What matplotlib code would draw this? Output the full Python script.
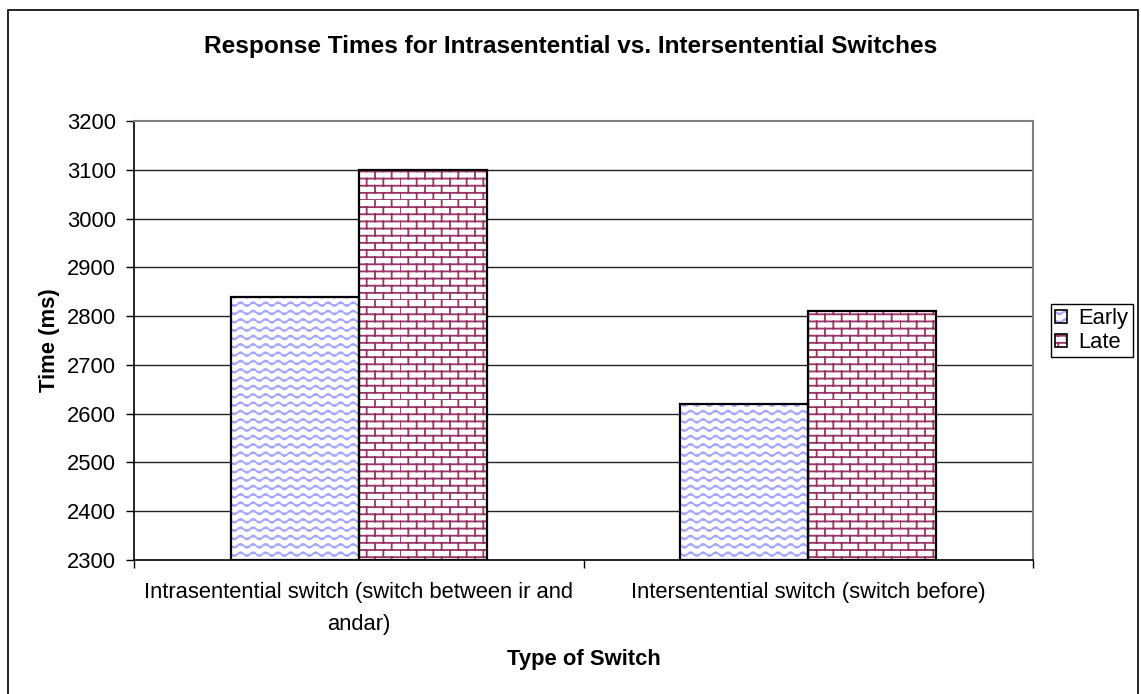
import matplotlib
matplotlib.use("Agg")
import matplotlib.pyplot as plt
import matplotlib.hatch as mhatch
from matplotlib.path import Path
from matplotlib.patches import Patch, Rectangle
from matplotlib.legend_handler import HandlerTuple
import numpy as np

# данные
categories = ["Intrasentential switch (switch between ir and\nandar)",
              "Intersentential switch (switch before)"]
series_names = ["Early", "Late"]
early = [2840, 2620]
late = [3100, 2810]
y_ticks = [2300, 2400, 2500, 2600, 2700, 2800, 2900, 3000, 3100, 3200]


# Excel-like fills: 'o' -> wave, '+' -> brick
class WaveHatch(mhatch.HatchPatternBase):
    rows, waves, steps = 12, 8, 64

    def __init__(self, hatch, density):
        self.num_vertices = self.rows * (self.steps + 1) if 'o' in hatch else 0

    def set_vertices_and_codes(self, vertices, codes):
        n = self.steps + 1
        t = np.linspace(0, 1, n)
        for r in range(self.rows):
            y0 = (r + 0.5) / self.rows
            vertices[r * n:(r + 1) * n, 0] = t
            vertices[r * n:(r + 1) * n, 1] = y0 + 0.02 * np.sin(2 * np.pi * self.waves * t)
            codes[r * n] = Path.MOVETO
            codes[r * n + 1:(r + 1) * n] = Path.LINETO


class BrickHatch(mhatch.HatchPatternBase):
    rows, cols = 14, 6

    def __init__(self, hatch, density):
        self.num_vertices = self.rows * (self.cols + 1) * 2 if '+' in hatch else 0

    def set_vertices_and_codes(self, vertices, codes):
        segs = []
        for r in range(self.rows):
            y0, y1 = r / self.rows, (r + 1) / self.rows
            segs.append(((0, y0), (1, y0)))
            shift = 0.5 / self.cols if r % 2 else 0.0
            for c in range(self.cols):
                x = c / self.cols + shift
                segs.append(((x, y0), (x, y1)))
        vertices[:] = np.array(segs).reshape(-1, 2)
        codes[0::2] = Path.MOVETO
        codes[1::2] = Path.LINETO


mhatch._hatch_types = [WaveHatch, BrickHatch]

plt.rcParams['font.family'] = ['Liberation Sans', 'DejaVu Sans']
plt.rcParams['hatch.linewidth'] = 1.3

W, H = 1141, 694
FS = 15.8
fig = plt.figure(figsize=(W / 100, H / 100), dpi=100)
ax = fig.add_axes([134 / W, 1 - 560 / H, 899 / W, 439 / H])

colors = ['#A6A6FF', '#993366']
hatches = ['o', '+']
bw = 0.285
x = np.arange(len(categories))

handles = []
for i, (vals, name) in enumerate(zip([early, late], series_names)):
    pos = x + (i - 0.5) * bw
    ax.bar(pos, np.array(vals) - y_ticks[0], bw, bottom=y_ticks[0], color='white',
           edgecolor=colors[i], hatch=hatches[i], linewidth=0, zorder=3)
    ax.bar(pos, np.array(vals) - y_ticks[0], bw, bottom=y_ticks[0], fill=False,
           edgecolor='black', linewidth=1.6, zorder=4)
    handles.append((Patch(facecolor='white', edgecolor=colors[i], hatch=hatches[i], linewidth=0),
                    Patch(fill=False, edgecolor='black', linewidth=1.2)))

ax.set_ylim(y_ticks[0], y_ticks[-1])
ax.set_xlim(-0.5, len(categories) - 0.5)
ax.set_yticks(y_ticks)
ax.hlines(y_ticks[1:-1], -0.5, len(categories) - 0.5, color='#222222', linewidth=1, zorder=1)

ax.set_xticks(np.arange(len(categories) + 1) - 0.5)
ax.set_xticklabels([])
ax.set_xticks(x, minor=True)
ax.set_xticklabels(categories, minor=True, fontsize=FS, linespacing=1.65)
ax.tick_params(axis='x', which='minor', length=0, pad=16)
ax.tick_params(axis='x', which='major', length=6, direction='out', width=1)
ax.tick_params(axis='y', length=6, direction='out', width=1, labelsize=FS, pad=7)

for s in ['left', 'bottom']:
    ax.spines[s].set_color('black')
    ax.spines[s].set_linewidth(1.2)
for s in ['top', 'right']:
    ax.spines[s].set_color('#808080')
    ax.spines[s].set_linewidth(1.5)

fig.text(571 / W, 1 - 47 / H, "Response Times for Intrasentential vs. Intersentential Switches",
         fontsize=17.6, fontweight='bold', ha='center', va='center')
ax.set_ylabel("Time (ms)", fontsize=FS, fontweight='bold', labelpad=5)
ax.set_xlabel("Type of Switch", fontsize=FS, fontweight='bold', labelpad=10)

leg = fig.legend(handles, series_names, loc='upper left',
                 bbox_to_anchor=(1051 / W, 1 - 304 / H),
                 handler_map={tuple: HandlerTuple(ndivide=1)},
                 fontsize=FS, handlelength=0.55, handleheight=0.55, handletextpad=0.5,
                 fancybox=False, edgecolor='black', framealpha=1,
                 borderpad=0.2, labelspacing=0.12, borderaxespad=0)
leg.get_frame().set_linewidth(1)

fig.patches.append(Rectangle((8 / W, -0.02), 1130 / W, 1.02 - 10 / H,
                             transform=fig.transFigure, fill=False,
                             edgecolor='black', linewidth=1.2))

fig.savefig("out.png", dpi=100)
